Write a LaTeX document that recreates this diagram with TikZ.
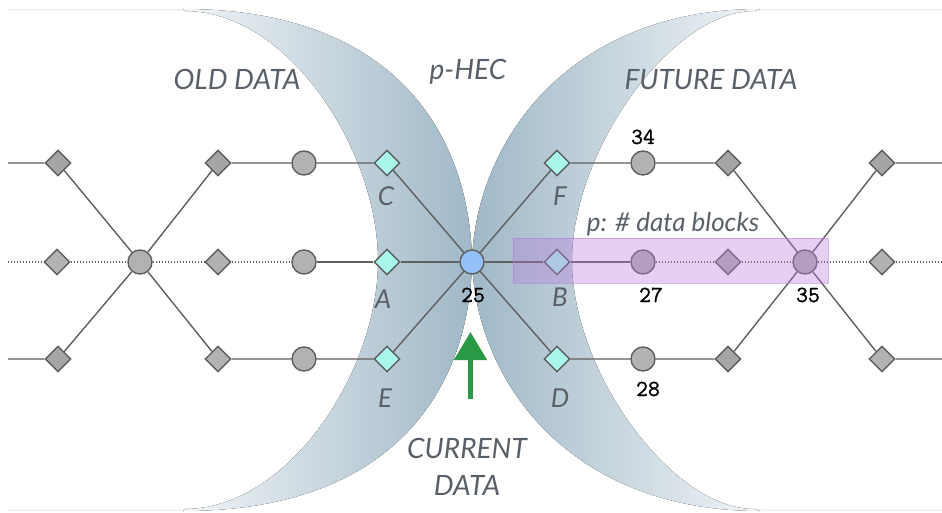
\documentclass[tikz,border=0pt]{standalone}
\usepackage{fontspec}
\newfontfamily\labfont{Lato}
\newfontfamily\numfont[FakeBold=1.2]{Latin Modern Mono}
\usetikzlibrary{shapes.geometric,arrows.meta}
\definecolor{lineC}{HTML}{5F5F5F}
\definecolor{dgray}{HTML}{A3A6A5}
\definecolor{lgray}{HTML}{B2B2B2}
\definecolor{cyanF}{HTML}{A8F5EA}
\definecolor{hubF}{HTML}{93C1F7}
\definecolor{crD}{RGB}{160,184,199}
\definecolor{crL}{RGB}{240,244,246}
\definecolor{txtC}{HTML}{5A6068}
\definecolor{purp}{RGB}{183,124,222}
\definecolor{grn}{HTML}{2A9946}
\begin{document}
\begin{tikzpicture}[x=1pt,y=-1pt,
 dia/.style={diamond,draw=lineC,line width=1.4pt,inner sep=0pt,minimum width=26pt,minimum height=26pt},
 circ/.style={circle,draw=lineC,line width=1.4pt,inner sep=0pt,minimum size=24pt,fill=lgray},
 ln/.style={draw=lineC,line width=1.4pt},
 dt/.style={draw=lineC,line width=1.3pt,dash pattern=on 1.3pt off 1.7pt},
 ttl/.style={font=\labfont\itshape\fontsize{28}{32}\selectfont,text=txtC,anchor=base,inner sep=0pt},
 lbl/.style={font=\labfont\itshape\fontsize{26}{30}\selectfont,text=txtC,anchor=base,inner sep=0pt},
 num/.style={font=\numfont\fontsize{23}{26}\selectfont,text=black,anchor=base,inner sep=0pt}]
\useasboundingbox (0,0) rectangle (942,513);
\fill[white] (0,0) rectangle (942,513);
% crescents
\fill[crL] (8,9) rectangle (186,11);
\fill[crL] (8,509) rectangle (186,511);
\fill[left color=crL, right color=crD] (183,9) .. controls (400,9) and (470,140) .. (472,261)
  .. controls (470,382) and (400,511) .. (183,511) -- (185,509)
  .. controls (288,509) and (378,372) .. (378,261)
  .. controls (378,150) and (288,11) .. (185,11) -- cycle;
\fill[crL] (752,9) rectangle (942,11);
\fill[crL] (752,509) rectangle (942,511);
\fill[left color=crD, right color=crL] (760,9) .. controls (570,9) and (476,140) .. (472,261)
  .. controls (476,382) and (570,511) .. (760,511) -- (754,509)
  .. controls (672,509) and (572,372) .. (572,261)
  .. controls (572,150) and (672,11) .. (754,11) -- cycle;
% end points
\coordinate (lt) at (8,163); \coordinate (lm) at (8,262); \coordinate (lb) at (8,359);
\coordinate (rt) at (942,163); \coordinate (rm) at (942,262); \coordinate (rb) at (942,359);
% top row
\node[dia,fill=dgray] (t1) at (58,163) {};
\node[dia,fill=dgray] (t3) at (218,163) {};
\node[circ] (t4) at (304,163) {};
\node[dia,fill=cyanF] (nC) at (387,163) {};
\node[dia,fill=cyanF] (nF) at (557,163) {};
\node[circ] (n34) at (643,163) {};
\node[dia,fill=dgray] (t6) at (728,163) {};
\node[dia,fill=dgray] (t8) at (882,163) {};
% middle row
\node[dia,fill=lgray] (m1) at (57,262) {};
\node[circ] (hl) at (140,262) {};
\node[dia,fill=lgray] (m3) at (218,262) {};
\node[circ] (m4) at (304,262) {};
\node[dia,fill=cyanF] (nA) at (387,262) {};
\node[circ,fill=hubF] (h) at (472,262) {};
\node[dia,fill=cyanF] (nB) at (557,262) {};
\node[circ] (n27) at (643,262) {};
\node[dia,fill=lgray] (m6) at (728,262) {};
\node[circ] (hr) at (805,262) {};
\node[dia,fill=lgray] (m8) at (882,262) {};
% bottom row
\node[dia,fill=dgray] (b1) at (58,359) {};
\node[dia,fill=lgray] (b3) at (218,359) {};
\node[circ] (b4) at (304,359) {};
\node[dia,fill=cyanF] (nE) at (387,359) {};
\node[dia,fill=cyanF] (nD) at (557,359) {};
\node[circ] (n28) at (643,359) {};
\node[dia,fill=dgray] (b6) at (728,359) {};
\node[dia,fill=lgray] (b8) at (882,359) {};
% edges
\draw[ln] (lt) -- (t1) -- (hl) -- (t3) -- (t4) -- (nC) -- (h) -- (nF) -- (n34) -- (t6) -- (hr) -- (t8) -- (rt);
\draw[ln] (lb) -- (b1) -- (hl) -- (b3) -- (b4) -- (nE) -- (h) -- (nD) -- (n28) -- (b6) -- (hr) -- (b8) -- (rb);
\draw[ln] (m4) -- (nA) -- (h) -- (nB) -- (n27);
\draw[dt] (lm) -- (m1) -- (hl) -- (m3) -- (m4);
\draw[dt] (n27) -- (m6) -- (hr) -- (m8) -- (rm);
% overlay
\node[draw=purp,draw opacity=0.55,line width=0.8pt,fill=purp,fill opacity=0.36,inner sep=0pt,
  minimum width=315pt,minimum height=45pt] (win) at (670.5,260.5) {};
% arrow
\coordinate (ab) at (470.5,399);
\coordinate (at) at (470.5,332);
\draw[grn,line width=5pt,-{Triangle[width=32pt,length=28pt]}] (ab) -- (at);
% labels
\node[ttl] (lold) at (237,90) {OLD DATA};
\node[ttl] (lhec) at (468,80) {p-HEC};
\node[ttl] (lfut) at (711,90) {FUTURE DATA};
\node[ttl] (lcur) at (467,458) {CURRENT};
\node[ttl] (ldat) at (467,495) {DATA};
\node[lbl] (lC) at (386,205) {C};
\node[lbl] (lA) at (383,308) {A};
\node[lbl] (lE) at (385,407) {E};
\node[lbl] (lF) at (560,205) {F};
\node[lbl] (lB) at (560,306) {B};
\node[lbl] (lD) at (560,407) {D};
\node[lbl] (lp) at (673,232) {p: \# data blocks};
\node[num] (l34) at (643,144) {34};
\node[num] (l25) at (473,302) {25};
\node[num] (l27) at (651,302) {27};
\node[num] (l35) at (808,302) {35};
\node[num] (l28) at (648,396) {28};
\end{tikzpicture}
\end{document}
